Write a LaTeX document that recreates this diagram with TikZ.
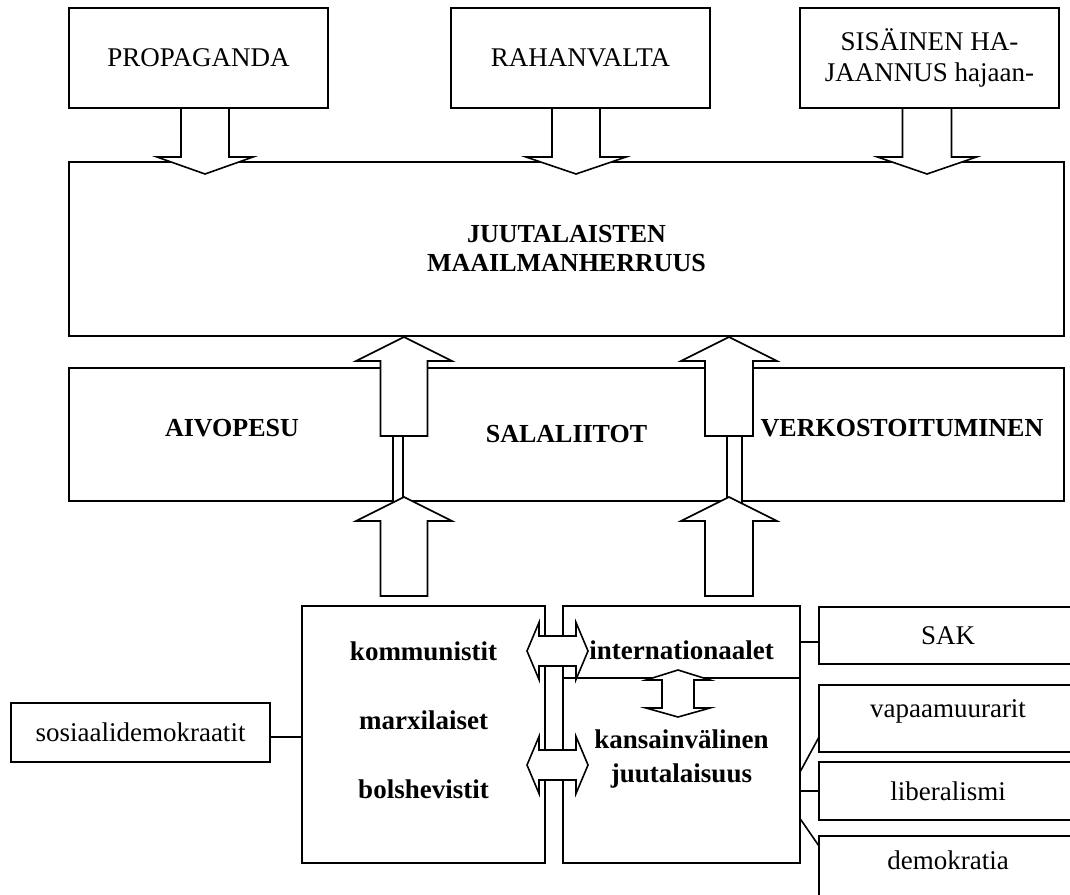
\documentclass[tikz,border=0pt]{standalone}
\usepackage{fontspec}
\setmainfont{Liberation Serif}
\usepackage{tikz}

\newcommand{\fatv}[6]{%
  \draw[fat] (#1-#5,#2) -- (#1-#5,#3) -- (#1-#6,#3) -- (#1,#4) -- (#1+#6,#3) -- (#1+#5,#3) -- (#1+#5,#2) -- cycle;}
\newcommand{\twinh}[1]{%
  \draw[fat] (527,#1) -- (539,#1-28.5) -- (539,#1-15) -- (576,#1-15) -- (576,#1-28.5) -- (588,#1)
    -- (576,#1+28.5) -- (576,#1+15) -- (539,#1+15) -- (539,#1+28.5) -- cycle;}

\begin{document}
\begin{tikzpicture}[x=1pt,y=-1pt,
  box/.style={draw,line width=1.6pt,inner sep=0pt,outer sep=0pt,align=center},
  fat/.style={draw,line width=1.6pt,fill=white,line join=miter},
  link/.style={draw,line width=1.6pt},
  lbl/.style={font=\fontsize{27}{31}\selectfont},
  blbl/.style={font=\fontsize{26}{29}\selectfont\bfseries},
  sblbl/.style={font=\fontsize{27}{29}\selectfont\bfseries}]
\useasboundingbox (0,0) rectangle (1070,894);
\clip (0,0) rectangle (1070,894);

\node[box,lbl,minimum width=259,minimum height=100] (prop) at (198.5,58) {PROPAGANDA};
\node[box,lbl,minimum width=259,minimum height=100] (rahan) at (580.5,58) {RAHANVALTA};
\node[box,lbl,minimum width=259,minimum height=100] (sis) at (929.5,58) {SISÄINEN HA-\\JAANNUS hajaan-};

\node[box,blbl,minimum width=995,minimum height=174] (world) at (566.5,249) {JUUTALAISTEN\\MAAILMANHERRUUS};
\node[box,blbl,minimum width=995,minimum height=133] (mid) at (566.5,434.5) {SALALIITOT};
\node[blbl] (aivo) at (232,428) {AIVOPESU};
\node[blbl] (verk) at (902,428) {VERKOSTOITUMINEN};

\node[box,minimum width=243,minimum height=257] (komm) at (423.5,734.5) {};
\node[sblbl] (kommA) at (423.5,651) {kommunistit};
\node[sblbl] (kommB) at (423.5,720) {marxilaiset};
\node[sblbl] (kommC) at (423.5,789) {bolshevistit};

\node[box,minimum width=237,minimum height=72] (intern) at (681.5,642) {};
\node[sblbl] (interntxt) at (681.5,650) {internationaalet};
\node[box,minimum width=237,minimum height=185] (kans) at (681.5,770.5) {};
\node[sblbl,align=center] (kanstxt) at (681.5,759) {kansainvälinen\\[5pt]juutalaisuus};

\node[box,lbl,minimum width=259,minimum height=59] (sos) at (140.5,732.5) {sosiaalidemokraatit};
\node[box,lbl,minimum width=258,minimum height=57] (sak) at (948,635.5) {SAK};
\node[box,minimum width=258,minimum height=67] (vapaa) at (948,718.5) {};
\node[lbl] (vapaatxt) at (948,711) {vapaamuurarit};
\node[box,lbl,minimum width=258,minimum height=58] (lib) at (948,791) {liberalismi};
\node[box,minimum width=258,minimum height=68] (demok) at (948,870) {};
\node[lbl] (demoktxt) at (948,860) {demokratia};

\draw[link] ([yshift=-4.5pt]sos.east) -- ([yshift=-4.5pt]sos.east -| komm.west);
\draw[link] (intern.east) -- (intern.east -| sak.west);
\draw[link] ([yshift=-1.5pt]kans.east) -- ([yshift=-18.5pt]vapaa.west);
\draw[link] (kans.east |- lib.west) -- (lib.west);
\draw[link] ([yshift=-48pt]kans.east) -- ([yshift=-10pt]demok.north west);

\fatv{205}{108}{157}{174}{24}{48}
\fatv{576}{108}{157}{174}{24}{50}
\fatv{927}{108}{157}{174}{24.5}{49.5}

\draw[fat] (393,436) rectangle (403,503);
\draw[fat] (727,436) rectangle (742,503);
\fatv{404}{436}{361}{337}{23.5}{48}
\fatv{404}{596}{521}{497}{23.5}{48}
\fatv{729}{436}{361}{337}{24}{48}
\fatv{729}{596}{521}{497}{24}{48}

\twinh{651}
\twinh{765}
\draw[fat] (678,670) -- (710,680) -- (694,680) -- (694,708) -- (710,708) -- (678,717)
  -- (646,708) -- (662,708) -- (662,680) -- (646,680) -- cycle;
\end{tikzpicture}
\end{document}
